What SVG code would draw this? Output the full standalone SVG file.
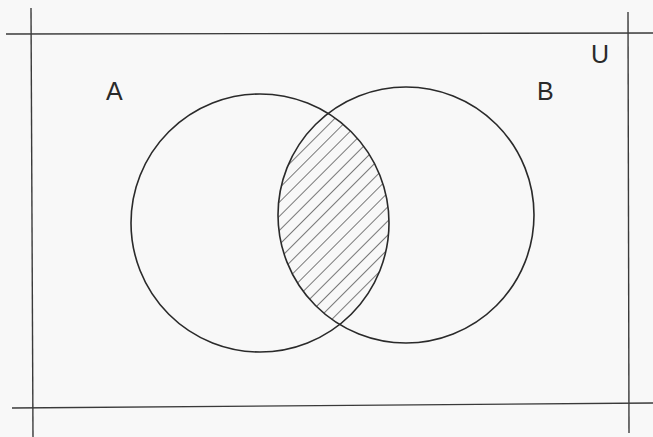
<svg xmlns="http://www.w3.org/2000/svg" width="653" height="437" viewBox="0 0 653 437">
  <style>
    .frame { stroke: #3a3a3a; stroke-width: 1.4; fill: none; }
    .set { stroke: #2a2a2a; stroke-width: 1.6; fill: none; }
    .lbl { font-family: "Liberation Sans", Arial, sans-serif; font-size: 25px; fill: #2a2a2a; }
    .hatch { stroke: #333333; stroke-width: 1.3; }
  </style>
  <defs>
    <pattern id="hatch" width="10" height="10" patternUnits="userSpaceOnUse" patternTransform="rotate(45)">
      <line class="hatch" x1="0" y1="-1" x2="0" y2="11"/>
    </pattern>
    <clipPath id="clipA">
      <circle cx="260" cy="223" r="129"/>
    </clipPath>
  </defs>
  <rect x="0" y="0" width="653" height="437" fill="#f8f8f8"/>

  <g id="universe">
    <line class="frame" x1="6" y1="34" x2="653" y2="33"/>
    <line class="frame" x1="12" y1="408" x2="653" y2="403"/>
    <line class="frame" x1="31" y1="8" x2="33" y2="437"/>
    <line class="frame" x1="628" y1="12" x2="629" y2="433"/>
    <text class="lbl" x="591" y="63">U</text>
  </g>

  <g id="intersection">
    <circle cx="406" cy="215" r="128" fill="url(#hatch)" clip-path="url(#clipA)"/>
  </g>

  <g id="setA">
    <circle class="set" cx="260" cy="223" r="129"/>
    <text class="lbl" x="106" y="100">A</text>
  </g>

  <g id="setB">
    <circle class="set" cx="406" cy="215" r="128"/>
    <text class="lbl" x="537" y="100">B</text>
  </g>

  <g id="connectors"/>
</svg>
